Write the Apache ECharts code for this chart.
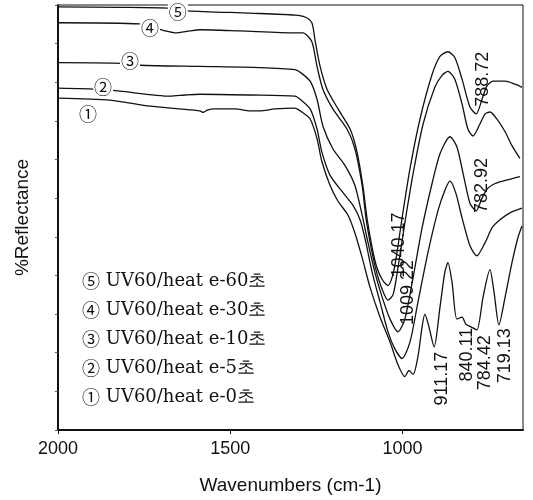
<!DOCTYPE html>
<html>
<head>
<meta charset="utf-8">
<script src="https://cdn.jsdelivr.net/npm/echarts@6/dist/echarts.min.js"></script>
<style>
  html, body { margin: 0; padding: 0; background: #fff; }
  #chart { width: 533px; height: 500px; }
</style>
</head>
<body>
<div id="chart"></div>
<script>
// wavenumber (cm-1), %reflectance
const curve1 = [[2000,85.9],[1849,85.4],[1733,83.8],[1646,83.1],[1588,82.6],[1579,82.2],[1567,82.8],[1544,83.1],[1486,83.1],[1443,82.6],[1414,82.6],[1370,83.1],[1312,83.3],[1297,82.6],[1268,80.5],[1248,75.4],[1234,69.5],[1210,63.3],[1187,59.2],[1158,55.6],[1138,51.0],[1117,44.6],[1094,36.9],[1065,29.2],[1036,22.8],[1013,16.9],[993,13.8],[981,15.4],[969,14.4],[955,19.0],[943,26.7],[935,30.0],[923,26.7],[908,21.5],[891,31.8],[877,40.8],[868,43.3],[856,38.2],[842,28.7],[827,29.2],[816,27.4],[801,26.7],[784,25.9],[766,34.4],[746,41.5],[734,35.6],[720,27.2],[702,34.4],[682,43.3],[665,49.7],[653,52.8]];
const curve2 = [[2000,88.5],[1878,88.2],[1820,87.7],[1675,86.4],[1631,86.7],[1588,86.9],[1443,86.7],[1312,86.4],[1297,85.6],[1268,83.1],[1248,77.9],[1234,72.0],[1210,65.9],[1176,61.8],[1144,58.2],[1123,54.4],[1106,48.5],[1088,40.8],[1065,33.1],[1042,25.4],[1022,21.0],[1001,18.5],[978,22.8],[955,33.1],[926,45.9],[897,56.7],[877,62.0],[862,64.4],[845,61.3],[827,54.9],[804,47.7],[784,45.1],[760,48.5],[740,52.3],[717,54.4],[688,56.2],[653,57.4]];
const curve3 = [[2000,95.1],[1791,94.9],[1762,94.4],[1588,94.1],[1414,93.8],[1312,93.3],[1297,92.6],[1268,90.3],[1248,85.6],[1231,78.7],[1202,72.8],[1167,68.5],[1138,63.3],[1117,55.6],[1100,48.5],[1080,40.8],[1059,34.4],[1036,28.7],[1013,25.4],[993,28.7],[969,39.5],[943,52.3],[914,63.8],[891,71.5],[862,75.9],[842,73.3],[824,66.4],[804,58.7],[786,56.7],[769,60.0],[752,62.6],[731,63.8],[702,64.6],[659,65.6]];
const curve4 = [[2000,105.4],[1762,105.1],[1689,103.3],[1660,102.8],[1617,103.3],[1588,103.6],[1472,103.3],[1312,102.8],[1289,102.8],[1263,100.5],[1248,94.1],[1231,88.2],[1202,83.1],[1161,77.9],[1138,72.8],[1117,63.3],[1106,54.9],[1091,47.2],[1077,41.5],[1059,36.4],[1042,33.6],[1027,35.1],[1013,42.0],[993,53.6],[969,66.4],[940,79.2],[906,88.7],[885,91.8],[868,92.8],[848,90.8],[827,84.4],[810,77.9],[795,76.1],[775,79.2],[760,81.8],[746,82.3],[726,80.5],[702,77.2],[682,73.6],[659,70.3]];
const curve5 = [[2000,109.5],[1820,109.4],[1681,109.2],[1623,108.5],[1443,107.9],[1312,107.4],[1283,106.9],[1263,105.4],[1254,101.0],[1239,94.1],[1219,88.2],[1187,83.1],[1152,77.9],[1132,72.0],[1115,63.3],[1103,54.9],[1088,47.2],[1074,42.0],[1057,38.7],[1042,37.4],[1030,39.5],[1019,44.1],[1001,54.9],[978,67.7],[949,80.5],[914,92.0],[891,96.7],[868,97.9],[848,96.4],[827,90.8],[804,83.6],[786,81.8],[769,85.6],[755,89.0],[737,90.3],[702,90.3],[673,89.5],[653,88.7]];

const seriesNames = ['① UV60/heat e-0초', '② UV60/heat e-5초', '③ UV60/heat e-10초', '④ UV60/heat e-30초', '⑤ UV60/heat e-60초'];
const curveMarks = ['①', '②', '③', '④', '⑤'];
const curveMarkAt = [[1913,81.8],[1869,88.7],[1791,95.4],[1733,104.1],[1652,108.2]];

const peakLabels = ['1040.17', '1009.22', '911.17', '840.11', '784.42', '719.13', '788.72', '782.92'];
const peakLabelAt = [[1010,47.9],[984,35.6],[885,13.3],[813,19.5],[760,17.4],[702,19.2],[766,90.8],[769,63.3]];

const xTicks = [2000, 1500, 1000];

const curves = [curve1, curve2, curve3, curve4, curve5];
const circleFont = 'Noto Sans CJK KR';

const chart = echarts.init(document.getElementById('chart'));

const series = curves.map((c, i) => ({
    name: seriesNames[i],
    type: 'line',
    data: c,
    showSymbol: false,
    smooth: 0.25,
    lineStyle: { color: '#111', width: 1.3 },
    itemStyle: { color: '#111' },
    z: 2,
    markPoint: {
        symbol: 'circle',
        symbolSize: 1,
        itemStyle: { color: 'rgba(0,0,0,0)' },
        label: {
            show: true,
            position: 'inside',
            formatter: curveMarks[i],
            fontFamily: circleFont,
            fontSize: 18,
            color: '#111',
            backgroundColor: i === 0 ? 'transparent' : '#fff',
            padding: [0, 1]
        },
        data: [{ coord: curveMarkAt[i] }]
    }
}));

// rotated peak annotations
series.push({
    type: 'line',
    data: [],
    silent: true,
    markPoint: {
        symbol: 'circle',
        symbolSize: 1,
        itemStyle: { color: 'rgba(0,0,0,0)' },
        label: {
            show: true,
            position: 'inside',
            rotate: 90,
            fontFamily: 'Liberation Sans',
            fontSize: 18,
            color: '#111',
            formatter: p => p.name
        },
        data: peakLabels.map((t, i) => ({ name: t, coord: peakLabelAt[i] }))
    }
});

chart.setOption({
    animation: false,
    grid: { left: 58, right: 10, top: 5, bottom: 66, show: true, borderColor: '#111', borderWidth: 1 },
    legend: {
        data: seriesNames.slice().reverse(),
        orient: 'vertical',
        left: 72,
        top: 267,
        icon: 'none',
        itemWidth: 0,
        itemHeight: 14,
        itemGap: 10,
        selectedMode: false,
        formatter: name => '{c|' + name.slice(0, 1) + '} ' + name.slice(2),
        textStyle: {
            fontFamily: 'DejaVu Serif', fontSize: 18, color: '#111', lineHeight: 19,
            rich: {
                c: { fontFamily: circleFont, fontSize: 18, color: '#111', lineHeight: 19 }
            }
        }
    },
    xAxis: {
        type: 'value',
        inverse: true,
        min: 650,
        max: 2000,
        name: 'Wavenumbers (cm-1)',
        nameLocation: 'middle',
        nameGap: 46,
        nameTextStyle: { fontFamily: 'Liberation Sans', fontSize: 19, color: '#111' },
        axisLine: { lineStyle: { color: '#111', width: 2 } },
        axisTick: { customValues: xTicks, length: 4, lineStyle: { color: '#111' } },
        axisLabel: { customValues: xTicks, formatter: v => String(v), fontFamily: 'Liberation Sans', fontSize: 18, color: '#111', margin: 10 },
        splitLine: { show: false }
    },
    yAxis: {
        type: 'value',
        min: 0,
        max: 110,
        interval: 10,
        name: '%Reflectance',
        nameLocation: 'middle',
        nameGap: 26,
        nameTextStyle: { fontFamily: 'Liberation Sans', fontSize: 19, color: '#111' },
        axisLine: { show: true, lineStyle: { color: '#111', width: 2 } },
        axisTick: { show: true, length: 3, lineStyle: { color: '#555' } },
        axisLabel: { show: false },
        splitLine: { show: false }
    },
    series: series
});
</script>
</body>
</html>
